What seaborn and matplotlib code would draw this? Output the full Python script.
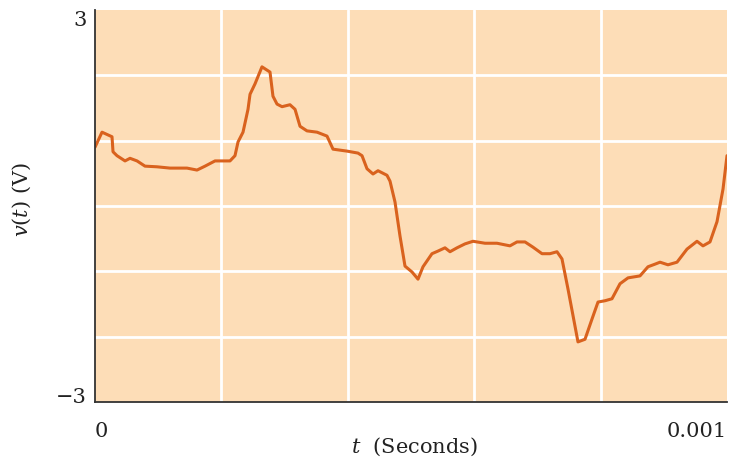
import numpy as np
import pandas as pd
import matplotlib
matplotlib.use("Agg")
import matplotlib.pyplot as plt
import seaborn as sns

# Sampled waveform: time in microseconds, voltage in volts
time_us = [0, 11.1, 26.9, 28.5, 34.8, 47.5, 55.4, 66.5, 79.1, 98.1,
           118.7, 145.6, 161.4, 174.1, 189.9, 213.6, 221.5, 226.3, 234.2, 242.1,
           245.3, 253.2, 264.2, 276.9, 281.6, 288.0, 295.9, 308.5, 316.5, 324.4,
           335.4, 351.3, 367.1, 376.6, 398.7, 416.1, 422.5, 430.4, 439.9, 447.8,
           462.0, 466.8, 474.7, 482.6, 490.5, 501.6, 511.1, 519.0, 533.2, 542.7,
           553.8, 561.7, 572.8, 585.4, 598.1, 617.1, 636.1, 656.6, 667.7, 680.4,
           693.0, 707.3, 719.9, 731.0, 738.9, 748.4, 764.2, 775.3, 786.4, 795.9,
           807.0, 818.0, 830.7, 843.4, 862.3, 875.0, 886.1, 894.0, 906.6, 920.9,
           936.7, 952.5, 962.0, 973.1, 984.2, 993.7, 1000.0]
volts = [0.90, 1.13, 1.06, 0.83, 0.77, 0.69, 0.73, 0.69, 0.61, 0.60,
         0.58, 0.58, 0.55, 0.61, 0.69, 0.69, 0.77, 0.98, 1.13, 1.48,
         1.71, 1.87, 2.13, 2.05, 1.68, 1.56, 1.52, 1.55, 1.48, 1.22,
         1.15, 1.13, 1.07, 0.87, 0.84, 0.81, 0.77, 0.57, 0.49, 0.54,
         0.47, 0.38, 0.06, -0.46, -0.92, -1.01, -1.12, -0.93, -0.73, -0.69,
         -0.64, -0.70, -0.64, -0.58, -0.54, -0.57, -0.57, -0.61, -0.55, -0.55,
         -0.63, -0.73, -0.73, -0.70, -0.81, -1.27, -2.08, -2.04, -1.73, -1.47,
         -1.45, -1.42, -1.19, -1.10, -1.07, -0.93, -0.89, -0.86, -0.90, -0.86,
         -0.66, -0.54, -0.61, -0.55, -0.24, 0.26, 0.77]

x_ticks = [0, 0.001]
x_tick_labels = ["0", "0.001"]
y_ticks = [-3, 3]
y_tick_labels = ["\u22123", "3"]

df = pd.DataFrame({"t": np.array(time_us) * 1e-6, "v": volts})

sns.set_theme(style="white")
plt.rcParams["font.family"] = ["DejaVu Serif"]
plt.rcParams["mathtext.fontset"] = "dejavuserif"

fig = plt.figure(figsize=(7.33, 4.60), dpi=100)
ax = fig.add_axes([95 / 733, 1 - 403 / 460, (727 - 95) / 733, (403 - 11) / 460])
ax.set_facecolor("#FDDDB7")

sns.lineplot(data=df, x="t", y="v", ax=ax, color="#D9621E", linewidth=2.2,
             solid_joinstyle="round", solid_capstyle="round", zorder=3)

ax.set_xlim(0, 0.001)
ax.set_ylim(-3, 3)

# white grid: 5 time divisions, 1 V steps
for gx in np.linspace(0, 0.001, 6)[1:-1]:
    ax.axvline(gx, color="white", lw=2.0, zorder=1)
for gy in np.arange(-2, 3):
    ax.axhline(gy, color="white", lw=2.0, zorder=1)

ax.set_xticks(x_ticks)
ax.set_xticklabels(x_tick_labels, fontsize=15, color="#222222")
ax.set_yticks(y_ticks)
ax.set_yticklabels(y_tick_labels, fontsize=15, color="#222222")
ax.tick_params(axis="both", length=0)
ax.tick_params(axis="x", pad=14)
ax.tick_params(axis="y", pad=6)

xl = ax.get_xticklabels()
xl[0].set_ha("left")
xl[1].set_ha("right")
yl = ax.get_yticklabels()
yl[0].set_va("baseline")
yl[1].set_va("top")

for side in ("top", "right"):
    ax.spines[side].set_visible(False)
for side in ("left", "bottom"):
    ax.spines[side].set_color("#333333")
    ax.spines[side].set_linewidth(1.3)
    ax.spines[side].set_zorder(4)

ax.set_xlabel(r"$t$  (Seconds)", fontsize=15, color="#222222")
ax.set_ylabel(r"$v(t)$ (V)", fontsize=15, color="#222222")
ax.xaxis.set_label_coords(0.505, -0.082)
ax.yaxis.set_label_coords(-0.098, 0.52)

fig.savefig("out.png", dpi=100, facecolor="white")
